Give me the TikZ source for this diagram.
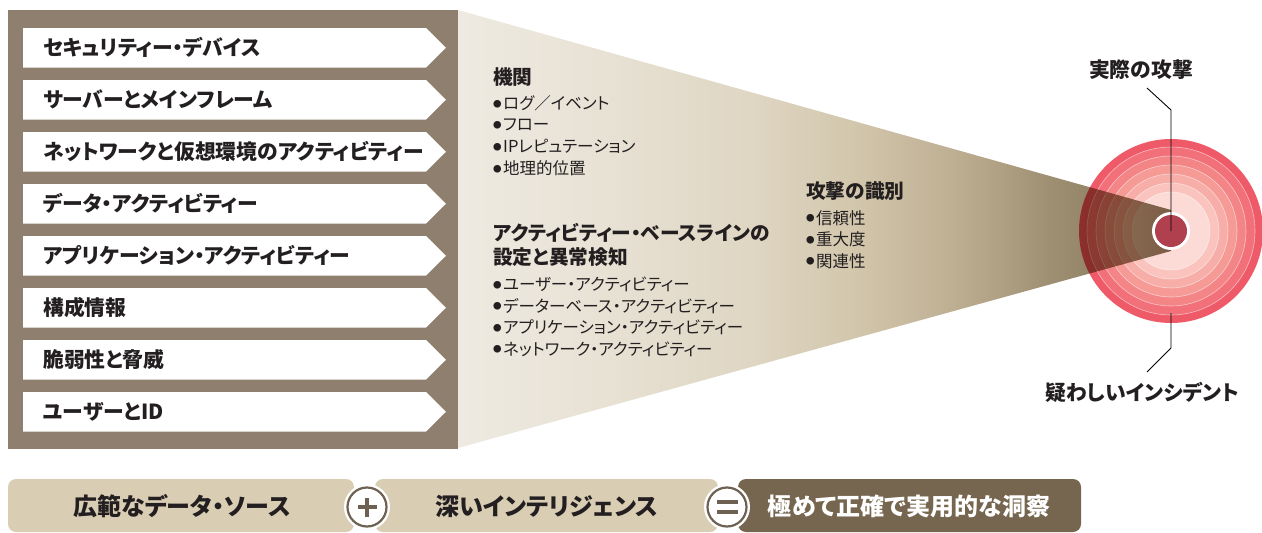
\documentclass[tikz,border=0pt]{standalone}
\usepackage{fontspec}
\setmainfont{Noto Sans CJK JP}[RawFeature=+palt]
\usetikzlibrary{calc}
\definecolor{ink}{HTML}{231F20}
\definecolor{panel}{HTML}{8E7F6E}
\definecolor{fA}{HTML}{EEEAE1}
\definecolor{fB}{HTML}{E8E2D5}
\definecolor{fC}{HTML}{DFD6C3}
\definecolor{fD}{HTML}{D3C7AD}
\definecolor{fE}{HTML}{BFB094}
\definecolor{fF}{HTML}{9F8F72}
\definecolor{fG}{HTML}{7D6D54}
\definecolor{rA}{HTML}{EF5A68}
\definecolor{rB}{HTML}{F2707A}
\definecolor{rC}{HTML}{F48587}
\definecolor{rD}{HTML}{F69A96}
\definecolor{rE}{HTML}{F8AEA8}
\definecolor{rF}{HTML}{FAC3BD}
\definecolor{rG}{HTML}{FCDBD6}
\definecolor{core}{HTML}{B0404E}
\definecolor{barlight}{HTML}{D9CDB4}
\definecolor{bardark}{HTML}{76664F}
\definecolor{opc}{HTML}{6E6152}
\pgfdeclarehorizontalshading{funnelshade}{100bp}{color(0bp)=(fA); color(25bp)=(fA); color(35bp)=(fB); color(45.5bp)=(fC); color(52.5bp)=(fD); color(59.5bp)=(fE); color(66.6bp)=(fF); color(75bp)=(fG); color(100bp)=(fG)}
\newcommand\bul{\raisebox{2.4pt}{\fontsize{8.5}{8.5}\selectfont ●}\hspace{1.5pt}}
\tikzset{
  rowtext/.style={anchor=west, inner sep=0pt, text=ink, font=\bfseries\fontsize{20.8}{24}\selectfont},
  head/.style={anchor=west, inner sep=0pt, text=ink, font=\bfseries\fontsize{19.7}{24}\selectfont},
  item/.style={anchor=west, inner sep=0pt, text=ink, font=\fontsize{16.5}{20}\selectfont},
  lbl/.style={inner sep=0pt, text=ink, font=\bfseries\fontsize{20.8}{24}\selectfont},
  bartext/.style={inner sep=0pt, font=\bfseries\fontsize{24}{28}\selectfont},
  leader/.style={draw=black, line width=0.9pt},
  opcircle/.style={circle, fill=white, draw=opc, line width=2.2pt, minimum size=39pt, inner sep=0pt},
}
\begin{document}
\begin{tikzpicture}[x=1pt, y=-1pt]
\useasboundingbox (0,0) rectangle (1262,533);
% target rings
\coordinate (c) at (1171,231);
\fill[rA] (c) circle[radius=92pt];
\foreach \r/\col in {84/rB,75/rC,66/rD,57/rE,48/rF,39/rG}
  \filldraw[fill=\col, draw=white, draw opacity=0.55, line width=0.6pt] (c) circle[radius=\r pt];
% funnel
\begin{scope}[blend mode=multiply]
\shade[shading=funnelshade] (458,10) -- (1171,210) -- (1171,251) -- (458,448) -- cycle;
\end{scope}
% core
\fill[white] (c) circle[radius=19pt];
\fill[core] (c) circle[radius=16pt];
% left panel
\fill[panel] (8,10) rectangle (458,448.5);
\foreach \i in {0,...,7}{
  \pgfmathsetmacro\t{28+52*\i}
  \fill[white] (23,\t) -- (426,\t) -- (446,\t+19.75) -- (426,\t+39.5) -- (23,\t+39.5) -- cycle;
}
\node[rowtext] (s1) at (43,47.75)  {セキュリティー・デバイス};
\node[rowtext] (s2) at (43,99.75)  {サーバーとメインフレーム};
\node[rowtext] (s3) at (43,151.75) {ネットワークと仮想環境のアクティビティー};
\node[rowtext] (s4) at (43,203.75) {データ・アクティビティー};
\node[rowtext] (s5) at (43,255.75) {アプリケーション・アクティビティー};
\node[rowtext] (s6) at (43,307.75) {構成情報};
\node[rowtext] (s7) at (43,359.75) {脆弱性と脅威};
\node[rowtext] (s8) at (43,411.75) {ユーザーとID};
% funnel texts
\node[head] (h1) at (493,77) {機関};
\node[item] (h1a) at (493,103.3) {\bul ログ／イベント};
\node[item] (h1b) at (493,125) {\bul フロー};
\node[item] (h1c) at (493,146.7) {\bul IPレピュテーション};
\node[item] (h1d) at (493,168.3) {\bul 地理的位置};
\node[head] (h2) at (493,233) {アクティビティー・ベースラインの};
\node[head] (h2b) at (493,257) {設定と異常検知};
\node[item] (h2a) at (493,284.5) {\bul ユーザー・アクティビティー};
\node[item] (h2c) at (493,306) {\bul データーベース・アクティビティー};
\node[item] (h2d) at (493,327.5) {\bul アプリケーション・アクティビティー};
\node[item] (h2e) at (493,349) {\bul ネットワーク・アクティビティー};
\node[head] (h3) at (806,191) {攻撃の識別};
\node[item] (h3a) at (806,218) {\bul 信頼性};
\node[item] (h3b) at (806,239.5) {\bul 重大度};
\node[item] (h3c) at (806,261) {\bul 関連性};
% target labels
\node[lbl] (actual) at (1141,70) {実際の攻撃};
\node[lbl] (susp) at (1142,392) {疑わしいインシデント};
\coordinate (t1) at (1147,88);
\coordinate (b1) at (1147,372);
\coordinate (b2) at (1171,313);
\draw[leader] (t1) -- (1171,110) -- (c);
\draw[leader] (b1) -- (1171,348) -- (b2);
% bottom bar
\fill[barlight, rounded corners=8pt] (8,479) rectangle (354,532);
\fill[barlight, rounded corners=8pt] (375,479) rectangle (718,532);
\fill[bardark, rounded corners=8pt] (738,479) rectangle (1081,532);
\node[bartext, text=ink] (b1t) at (182,506) {広範なデータ・ソース};
\node[bartext, text=ink] (b2t) at (547,506) {深いインテリジェンス};
\node[bartext, text=white] (b3t) at (909,506) {極めて正確で実用的な洞察};
\fill[white] (367,507) circle[radius=23pt];
\fill[white] (727,507) circle[radius=23pt];
\node[opcircle] (plus) at (367,507) {};
\node[opcircle] (eq) at (727,507) {};
\fill[opc] ($(plus)+(-9.5,-2)$) rectangle ($(plus)+(9.5,2)$);
\fill[opc] ($(plus)+(-2,-9.5)$) rectangle ($(plus)+(2,9.5)$);
\fill[opc] ($(eq)+(-10.5,-7)$) rectangle ($(eq)+(10.5,-3)$);
\fill[opc] ($(eq)+(-10.5,3)$) rectangle ($(eq)+(10.5,7)$);
\end{tikzpicture}
\end{document}
